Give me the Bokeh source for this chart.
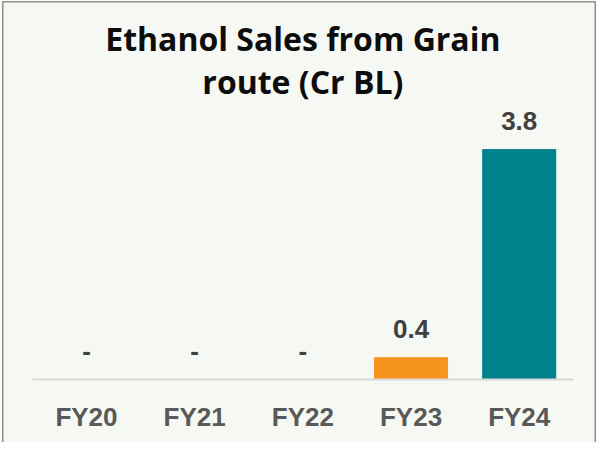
import numpy as np
from bokeh.plotting import figure
from bokeh.models import ColumnDataSource, Range1d, FixedTicker, Label, Span
from bokeh.core.properties import value
from bokeh.embed import file_html
from bokeh.resources import INLINE

# ---- data ----
categories = ["FY20", "FY21", "FY22", "FY23", "FY24"]
sales = [0.0, 0.0, 0.0, 0.36, 3.8]
bar_colors = ["#F7941D", "#F7941D", "#F7941D", "#F7941D", "#00828C"]
title_lines = ["Ethanol Sales from Grain", "route (Cr BL)"]

xs = list(range(len(categories)))
labels = ["-" if v == 0 else f"{v:.1f}" for v in sales]

source = ColumnDataSource(dict(x=xs, top=sales, color=bar_colors, label=labels))

BG = "#f6f8f3"
X0, X1 = -0.776, 4.705
Y0, Y1 = -1.041, 6.248

p = figure(width=597, height=442, output_backend="svg", toolbar_location=None,
           x_range=Range1d(X0, X1), y_range=Range1d(Y0, Y1),
           y_axis_location=None, min_border_left=2, min_border_right=2,
           min_border_top=1, min_border_bottom=0)
p.background_fill_color = BG
p.border_fill_color = BG
p.outline_line_color = None
p.xgrid.visible = False
p.ygrid.visible = False

p.vbar(x="x", top="top", width=0.675, color="color", source=source)

p.text(x="x", y="top", text="label", source=source, y_offset=-29,
       text_align="center", text_baseline="alphabetic",
       text_font=value("Liberation Sans"), text_font_style="bold",
       text_font_size="26px", text_color="#404040")

ax = p.xaxis[0]
ax.fixed_location = 0
ax.bounds = (-0.5, 4.5)
ax.ticker = FixedTicker(ticks=xs)
ax.major_label_overrides = {i: c for i, c in zip(xs, categories)}
ax.major_tick_line_color = None
ax.minor_tick_line_color = None
ax.axis_line_color = "#d9d9d9"
ax.axis_line_width = 2
ax.major_label_standoff = 16
ax.major_label_text_font = "Liberation Sans"
ax.major_label_text_font_style = "bold"
ax.major_label_text_font_size = "26px"
ax.major_label_text_color = "#595959"

for txt, yv in zip(title_lines, [5.64, 4.93]):
    p.add_layout(Label(x=2, y=yv, text=txt, text_align="center",
                       text_baseline="alphabetic", text_font="Open Sans",
                       text_font_style="bold", text_font_size="32px",
                       text_color="#0d0d0d"))

# frame border (left, top, right)
for loc, dim in [(X0, "height"), (X1, "height"), (Y1, "width")]:
    p.add_layout(Span(location=loc, dimension=dim, line_color="#262626",
                      line_width=1.5))

html = file_html(p, INLINE)
html = html.replace("<body>", '<body style="background-color:%s;">' % BG, 1)
open("out.html", "w").write(html)
